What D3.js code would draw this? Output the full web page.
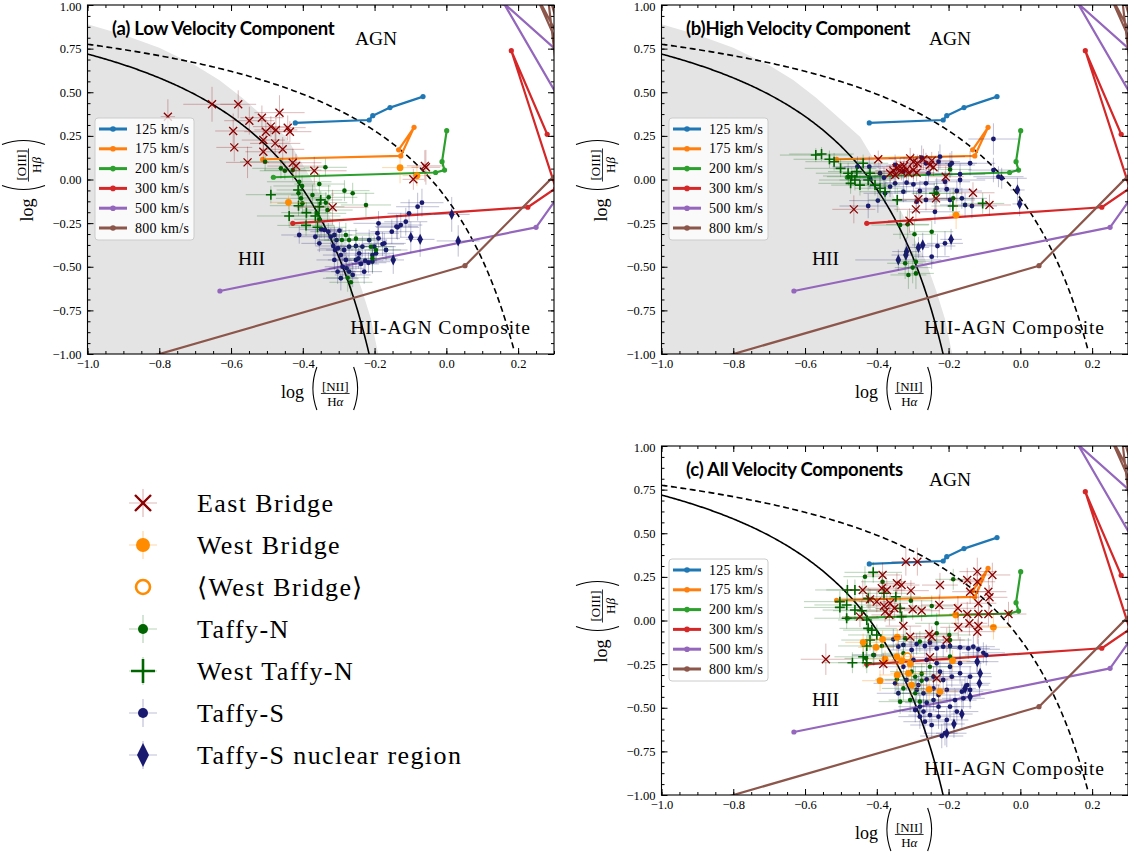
<!DOCTYPE html>
<html>
<head>
<meta charset="utf-8">
<script src="https://cdn.jsdelivr.net/npm/d3@7"></script>
<style>
  body { margin: 0; background: #fff; }
  svg text { font-family: "Liberation Serif", "Times New Roman", serif; fill: #000; }
</style>
</head>
<body>
<svg id="fig" width="1128" height="856"></svg>
<script>
// axis ticks
const xTicks = [-1.0, -0.8, -0.6, -0.4, -0.2, 0.0, 0.2];
const yTicks = [-1.0, -0.75, -0.5, -0.25, 0, 0.25, 0.5, 0.75, 1.0];

// shock model grids (same in every panel)
const velocities = ["125 km/s", "175 km/s", "200 km/s", "300 km/s", "500 km/s", "800 km/s"];
const modelColors = ["#1f77b4", "#ff7f0e", "#2ca02c", "#d62728", "#9467bd", "#8c564b"];
const model125 = [[-0.421,0.324],[-0.215,0.341],[-0.205,0.366],[-0.157,0.412],[-0.065,0.475]];
const model175 = [[-0.512,0.116],[-0.127,0.135],[-0.090,0.299],[-0.133,0.170]];
const model200 = [[-0.482,0.013],[-0.030,0.040],[-0.005,0.054],[-0.012,0.102],[0.001,0.280]];
const model300 = [[-0.428,-0.251],[0.227,-0.159],[0.305,-0.050],[0.181,0.738],[0.281,0.259]];
const model500 = [[-0.631,-0.639],[0.250,-0.274],[0.400,0.160],[0.160,1.010],[0.400,0.570]];
const model800 = [[-0.850,-1.030],[0.052,-0.494],[0.420,0.270],[0.240,1.100],[0.330,0.750],[0.280,1.100],[0.320,0.400]];
const models = [model125, model175, model200, model300, model500, model800];

// demarcation curves y = a/(x-b)+c
const kauffmann = { a: 0.61, b: 0.05, c: 1.30 };
const kewley    = { a: 0.61, b: 0.47, c: 1.19 };

// grey region edge (panels a, b)
const greyEdge = [[-1.0,0.89],[-0.90,0.83],[-0.80,0.755],[-0.70,0.655],[-0.633,0.57],[-0.57,0.47],
  [-0.521,0.381],[-0.446,0.244],[-0.41,0.12],[-0.37,-0.02],[-0.335,-0.17],[-0.298,-0.33],
  [-0.265,-0.46],[-0.234,-0.64],[-0.21,-0.80],[-0.19,-1.0]];

// ---- panel (a): [x, y, xerr, yerr]
const eastBridgeA = [[-0.776,0.360,0.02,0.10],[-0.653,0.431,0.08,0.10],[-0.580,0.431,0.05,0.08],
  [-0.549,0.337,0.07,0.08],[-0.514,0.354,0.06,0.07],[-0.465,0.383,0.07,0.10],[-0.594,0.278,0.05,0.10],
  [-0.503,0.274,0.06,0.07],[-0.489,0.303,0.05,0.06],[-0.475,0.284,0.06,0.07],[-0.442,0.297,0.05,0.07],
  [-0.436,0.274,0.06,0.06],[-0.591,0.184,0.05,0.08],[-0.510,0.226,0.06,0.07],[-0.477,0.207,0.07,0.08],
  [-0.456,0.173,0.06,0.07],[-0.510,0.159,0.05,0.07],[-0.554,0.098,0.06,0.09],[-0.428,0.096,0.08,0.08],
  [-0.419,0.077,0.08,0.07],[-0.368,0.050,0.09,0.08],[-0.317,-0.159,0.10,0.10],[-0.057,0.070,0.04,0.10],
  [-0.060,0.078,0.05,0.09],[-0.092,0.001,0.03,0.06]];
const westBridgeA = [[-0.440,-0.131,0.05,0.04],[-0.129,0.068,0.05,0.09],[-0.082,0.022,0.04,0.06]];
const taffyNA = [[-0.505,0.102,0.07,0.05],[-0.461,0.064,0.08,0.06],[-0.450,0.050,0.07,0.05],
  [-0.428,0.054,0.08,0.06],[-0.337,0.070,0.06,0.05],[-0.410,-0.013,0.09,0.07],[-0.402,-0.037,0.08,0.06],
  [-0.354,-0.026,0.07,0.06],[-0.412,-0.079,0.08,0.07],[-0.405,-0.108,0.07,0.06],[-0.328,-0.102,0.08,0.07],
  [-0.284,-0.064,0.07,0.06],[-0.261,-0.079,0.06,0.06],[-0.224,-0.146,0.07,0.07],[-0.401,-0.136,0.07,0.06],
  [-0.359,-0.194,0.08,0.07],[-0.354,-0.228,0.07,0.07],[-0.336,-0.133,0.06,0.06],[-0.331,-0.175,0.07,0.06],
  [-0.373,-0.089,0.06,0.06],[-0.280,-0.318,0.08,0.07],[-0.271,-0.347,0.07,0.06],[-0.252,-0.339,0.06,0.06],
  [-0.291,-0.347,0.07,0.07],[-0.210,-0.385,0.06,0.06],[-0.196,-0.404,0.07,0.06],[-0.206,-0.452,0.07,0.08],
  [-0.275,-0.563,0.06,0.08],[-0.266,-0.589,0.06,0.08]];
const westTaffyNA = [[-0.489,-0.087,0.07,0.05],[-0.438,-0.209,0.09,0.06],[-0.412,-0.150,0.08,0.06],
  [-0.390,-0.190,0.07,0.06],[-0.391,-0.263,0.08,0.06],[-0.359,-0.274,0.08,0.06],[-0.354,-0.156,0.07,0.06],
  [-0.350,-0.117,0.06,0.05],[-0.413,-0.060,0.06,0.05],[-0.365,-0.209,0.07,0.06]];
const taffySA = [[-0.410,-0.318,0.05,0.05],[-0.349,-0.285,0.06,0.05],[-0.340,-0.289,0.05,0.05],
  [-0.329,-0.299,0.05,0.05],[-0.322,-0.328,0.05,0.05],[-0.312,-0.318,0.05,0.05],[-0.298,-0.293,0.05,0.05],
  [-0.306,-0.347,0.05,0.05],[-0.315,-0.381,0.05,0.06],[-0.310,-0.404,0.05,0.06],[-0.302,-0.394,0.05,0.06],
  [-0.294,-0.433,0.05,0.06],[-0.285,-0.404,0.05,0.06],[-0.280,-0.461,0.05,0.06],[-0.289,-0.500,0.05,0.07],
  [-0.278,-0.509,0.05,0.07],[-0.271,-0.528,0.05,0.07],[-0.261,-0.547,0.05,0.07],[-0.252,-0.461,0.05,0.06],
  [-0.245,-0.452,0.05,0.06],[-0.238,-0.484,0.05,0.06],[-0.226,-0.465,0.05,0.06],[-0.217,-0.477,0.05,0.06],
  [-0.206,-0.433,0.05,0.06],[-0.196,-0.423,0.05,0.06],[-0.271,-0.385,0.05,0.06],[-0.252,-0.381,0.05,0.06],
  [-0.234,-0.385,0.05,0.06],[-0.192,-0.308,0.06,0.06],[-0.189,-0.337,0.06,0.06],[-0.173,-0.366,0.06,0.06],
  [-0.168,-0.404,0.06,0.06],[-0.189,-0.251,0.07,0.07],[-0.152,-0.299,0.06,0.07],[-0.136,-0.274,0.06,0.07],
  [-0.127,-0.261,0.06,0.07],[-0.113,-0.242,0.06,0.08],[-0.104,-0.194,0.06,0.08],[-0.080,-0.156,0.06,0.08],
  [-0.068,-0.133,0.06,0.08],[-0.365,-0.328,0.06,0.05],[-0.354,-0.366,0.05,0.05],[-0.215,-0.347,0.05,0.06],
  [-0.312,-0.461,0.05,0.06],[-0.303,-0.528,0.05,0.07],[-0.294,-0.566,0.05,0.07],[-0.243,-0.423,0.05,0.06],
  [-0.229,-0.528,0.05,0.07],[-0.139,-0.270,0.06,0.07],[-0.178,-0.370,0.06,0.07],[-0.201,-0.385,0.06,0.06],
  [-0.206,-0.471,0.05,0.07]];
const nuclearA = [[0.015,-0.200,0.05,0.10],[-0.099,-0.331,0.03,0.09],[-0.073,-0.343,0.04,0.10],
  [0.033,-0.352,0.06,0.09],[-0.148,-0.461,0.03,0.08]];

// ---- panel (b)
const eastBridgeB = [[-0.396,0.116,0.05,0.05],[-0.464,-0.171,0.06,0.08],[-0.307,0.121,0.06,0.06],
  [-0.298,0.102,0.05,0.05],[-0.287,0.093,0.05,0.05],[-0.270,0.116,0.05,0.06],[-0.247,0.108,0.06,0.05],
  [-0.252,0.083,0.05,0.05],[-0.242,0.070,0.05,0.05],[-0.363,0.036,0.05,0.05],[-0.354,0.051,0.05,0.05],
  [-0.345,0.064,0.05,0.05],[-0.335,0.073,0.05,0.05],[-0.324,0.077,0.05,0.05],[-0.317,0.058,0.05,0.05],
  [-0.331,0.045,0.05,0.05],[-0.312,0.036,0.05,0.05],[-0.298,0.054,0.05,0.05],[-0.289,0.039,0.05,0.05],
  [-0.349,0.026,0.05,0.05],[-0.208,0.016,0.05,0.06],[-0.132,-0.076,0.06,0.06],[-0.086,-0.146,0.06,0.06],
  [-0.235,-0.108,0.06,0.07],[-0.284,-0.113,0.06,0.06],[-0.291,-0.171,0.06,0.07],[-0.309,-0.236,0.06,0.07]];
const westBridgeB = [[-0.179,-0.204,0.02,0.08]];
const taffyNB = [[-0.479,0.016,0.06,0.05],[-0.233,-0.079,0.07,0.06],[-0.196,0.058,0.06,0.05],
  [-0.335,-0.261,0.08,0.08],[-0.314,-0.257,0.06,0.08],[-0.295,-0.314,0.06,0.08],[-0.247,-0.299,0.06,0.07],
  [-0.321,-0.480,0.05,0.09],[-0.300,-0.505,0.05,0.09],[-0.291,-0.538,0.05,0.09],[-0.312,-0.547,0.05,0.08],
  [-0.291,-0.471,0.05,0.08],[-0.187,-0.108,0.06,0.06]];
const westTaffyNB = [[-0.570,0.140,0.10,0.04],[-0.554,0.146,0.09,0.04],[-0.532,0.116,0.10,0.05],
  [-0.519,0.102,0.08,0.05],[-0.501,0.064,0.10,0.05],[-0.480,0.036,0.09,0.06],[-0.470,0.020,0.08,0.05],
  [-0.461,-0.003,0.10,0.06],[-0.447,-0.032,0.08,0.06],[-0.473,-0.022,0.09,0.06],[-0.456,0.045,0.08,0.05],
  [-0.438,0.093,0.07,0.05],[-0.419,0.036,0.08,0.05],[-0.424,-0.003,0.08,0.06],[-0.405,-0.032,0.07,0.06],
  [-0.391,-0.050,0.07,0.06],[-0.377,-0.070,0.07,0.06],[-0.343,-0.117,0.08,0.07],[-0.188,-0.152,0.06,0.06],
  [-0.105,-0.137,0.06,0.06],[-0.240,-0.079,0.06,0.06]];
const taffySB = [[-0.454,0.073,0.07,0.06],[-0.421,0.073,0.07,0.06],[-0.419,0.007,0.07,0.06],
  [-0.391,0.036,0.07,0.06],[-0.380,0.010,0.06,0.06],[-0.377,-0.079,0.06,0.06],[-0.363,-0.041,0.06,0.06],
  [-0.349,0.083,0.06,0.06],[-0.326,0.045,0.06,0.06],[-0.349,-0.022,0.06,0.06],[-0.317,-0.018,0.06,0.06],
  [-0.298,-0.028,0.06,0.06],[-0.326,-0.070,0.06,0.06],[-0.275,0.125,0.06,0.07],[-0.263,0.093,0.06,0.06],
  [-0.224,0.131,0.07,0.07],[-0.228,0.102,0.06,0.06],[-0.256,0.036,0.06,0.06],[-0.263,-0.022,0.06,0.06],
  [-0.280,-0.066,0.06,0.06],[-0.210,-0.013,0.07,0.06],[-0.205,-0.056,0.07,0.06],[-0.196,0.083,0.07,0.07],
  [-0.191,0.093,0.07,0.07],[-0.168,0.030,0.07,0.06],[-0.168,-0.003,0.07,0.06],[-0.177,-0.066,0.07,0.06],
  [-0.163,-0.108,0.07,0.06],[-0.196,-0.117,0.07,0.06],[-0.238,-0.185,0.07,0.07],[-0.233,-0.050,0.06,0.06],
  [-0.263,-0.117,0.06,0.06],[-0.289,-0.127,0.06,0.06],[-0.397,-0.121,0.08,0.07],[-0.424,-0.152,0.08,0.07],
  [-0.140,0.093,0.07,0.07],[-0.075,0.232,0.07,0.09],[-0.075,0.054,0.07,0.07],[-0.061,0.016,0.07,0.06],
  [-0.052,0.007,0.07,0.06],[-0.154,-0.146,0.07,0.07],[-0.135,-0.152,0.07,0.07],[-0.210,-0.366,0.05,0.07],
  [-0.231,-0.381,0.05,0.07],[-0.247,-0.442,0.05,0.07]];
const nuclearB = [[-0.008,-0.060,0.02,0.07],[-0.002,-0.140,0.02,0.07],[-0.193,-0.343,0.03,0.06],
  [-0.272,-0.375,0.03,0.07],[-0.284,-0.389,0.03,0.06],[-0.317,-0.413,0.04,0.08],[-0.319,-0.433,0.04,0.07],
  [-0.340,-0.461,0.12,0.06]];

// ---- panel (c)
const eastBridgeC = [[-0.542,-0.222,0.07,0.09],[-0.319,0.337,0.04,0.08],[-0.287,0.337,0.04,0.08],
  [-0.384,0.261,0.05,0.07],[-0.439,0.175,0.05,0.06],[-0.386,0.185,0.05,0.06],[-0.372,0.175,0.05,0.06],
  [-0.344,0.213,0.05,0.06],[-0.331,0.203,0.05,0.06],[-0.305,0.171,0.05,0.06],[-0.224,0.203,0.05,0.07],
  [-0.419,0.121,0.05,0.06],[-0.400,0.108,0.05,0.06],[-0.380,0.083,0.05,0.06],[-0.363,0.099,0.05,0.06],
  [-0.351,0.070,0.05,0.06],[-0.377,0.051,0.05,0.06],[-0.365,0.032,0.05,0.06],[-0.447,0.022,0.05,0.06],
  [-0.300,0.064,0.05,0.06],[-0.275,0.056,0.05,0.06],[-0.226,0.089,0.05,0.06],[-0.326,-0.032,0.05,0.06],
  [-0.307,-0.093,0.05,0.06],[-0.247,-0.093,0.05,0.06],[-0.174,0.070,0.05,0.07],[-0.148,0.232,0.05,0.07],
  [-0.120,0.280,0.05,0.08],[-0.078,0.261,0.05,0.07],[-0.120,0.222,0.05,0.07],[-0.140,0.165,0.05,0.07],
  [-0.089,0.165,0.05,0.07],[-0.086,0.133,0.05,0.07],[-0.117,0.099,0.05,0.07],[-0.148,0.037,0.05,0.07],
  [-0.117,0.037,0.05,0.07],[-0.089,0.037,0.05,0.07],[-0.033,0.037,0.05,0.07],[-0.142,-0.016,0.05,0.07],
  [-0.117,-0.032,0.05,0.07],[-0.173,-0.039,0.05,0.07],[-0.120,-0.064,0.05,0.07],[-0.254,-0.077,0.05,0.06],
  [-0.382,-0.249,0.05,0.06],[-0.233,-0.331,0.05,0.06],[-0.252,-0.211,0.05,0.06],[-0.205,-0.112,0.05,0.07]];
const westBridgeC = [[-0.438,-0.125,0.05,0.05],[-0.402,-0.154,0.05,0.05],[-0.384,-0.108,0.05,0.05],
  [-0.343,-0.096,0.05,0.05],[-0.377,-0.222,0.05,0.05],[-0.344,-0.207,0.05,0.05],[-0.331,-0.230,0.05,0.05],
  [-0.307,-0.249,0.05,0.05],[-0.343,-0.312,0.05,0.06],[-0.312,-0.303,0.05,0.06],[-0.391,-0.345,0.05,0.06],
  [-0.303,-0.370,0.05,0.06],[-0.254,-0.395,0.05,0.06],[-0.224,-0.408,0.05,0.06],[-0.189,-0.230,0.05,0.06],
  [-0.180,0.032,0.05,0.07],[-0.075,-0.039,0.05,0.07]];
const westBridgeMeanC = [[-0.315,-0.207]];
const taffyNC = [[-0.433,0.251,0.06,0.06],[-0.384,0.222,0.06,0.06],[-0.187,0.236,0.05,0.06],
  [-0.247,0.083,0.06,0.06],[-0.305,0.113,0.06,0.06],[-0.233,-0.016,0.06,0.06],[-0.321,-0.102,0.06,0.06],
  [-0.280,-0.121,0.06,0.06],[-0.386,-0.146,0.06,0.06],[-0.410,-0.198,0.06,0.06],[-0.326,-0.188,0.06,0.06],
  [-0.303,-0.293,0.06,0.06],[-0.293,-0.322,0.06,0.06],[-0.275,-0.306,0.06,0.06],[-0.252,-0.265,0.06,0.06],
  [-0.198,-0.083,0.06,0.06],[-0.196,-0.207,0.06,0.06],[-0.344,-0.337,0.06,0.06],[-0.326,-0.389,0.06,0.07],
  [-0.307,-0.456,0.06,0.07],[-0.293,-0.417,0.06,0.07],[-0.280,-0.465,0.06,0.07],[-0.335,-0.465,0.06,0.07],
  [-0.430,-0.217,0.06,0.06],[-0.233,-0.073,0.06,0.06],[-0.196,-0.112,0.06,0.06],[-0.275,-0.345,0.06,0.06]];
const westTaffyNC = [[-0.410,0.276,0.08,0.06],[-0.482,0.175,0.09,0.06],[-0.461,0.175,0.08,0.06],
  [-0.503,0.108,0.10,0.06],[-0.484,0.089,0.09,0.06],[-0.461,0.060,0.09,0.06],[-0.442,0.056,0.08,0.06],
  [-0.484,0.013,0.09,0.06],[-0.503,0.075,0.10,0.06],[-0.424,0.127,0.08,0.06],[-0.380,0.156,0.07,0.06],
  [-0.347,0.136,0.07,0.06],[-0.331,0.022,0.07,0.06],[-0.335,0.070,0.07,0.06],[-0.428,0.003,0.08,0.06],
  [-0.424,-0.045,0.08,0.06],[-0.414,-0.055,0.08,0.06],[-0.400,-0.083,0.08,0.06],[-0.419,-0.112,0.08,0.06],
  [-0.428,-0.146,0.08,0.06],[-0.428,-0.242,0.08,0.06],[-0.438,-0.208,0.08,0.06],[-0.468,-0.242,0.08,0.06]];
const taffySC = [[-0.408,-0.198,0.06,0.06],[-0.354,-0.108,0.06,0.06],[-0.340,-0.150,0.06,0.06],
  [-0.326,-0.140,0.06,0.06],[-0.303,-0.169,0.06,0.06],[-0.289,-0.135,0.06,0.06],[-0.266,-0.146,0.06,0.06],
  [-0.252,-0.127,0.06,0.06],[-0.233,-0.160,0.06,0.06],[-0.215,-0.150,0.06,0.06],[-0.196,-0.146,0.06,0.06],
  [-0.168,-0.154,0.06,0.06],[-0.145,-0.160,0.06,0.06],[-0.131,-0.150,0.06,0.06],[-0.117,-0.165,0.06,0.06],
  [-0.103,-0.185,0.06,0.06],[-0.095,-0.198,0.06,0.06],[-0.121,-0.236,0.06,0.06],[-0.140,-0.322,0.06,0.06],
  [-0.148,-0.370,0.06,0.06],[-0.140,-0.398,0.06,0.06],[-0.163,-0.408,0.06,0.06],[-0.159,-0.446,0.06,0.06],
  [-0.182,-0.456,0.06,0.06],[-0.205,-0.398,0.06,0.06],[-0.228,-0.427,0.06,0.06],[-0.242,-0.456,0.06,0.06],
  [-0.261,-0.471,0.06,0.06],[-0.280,-0.494,0.06,0.07],[-0.293,-0.513,0.06,0.07],[-0.270,-0.522,0.06,0.07],
  [-0.252,-0.542,0.06,0.07],[-0.228,-0.551,0.06,0.07],[-0.205,-0.570,0.06,0.07],[-0.280,-0.551,0.06,0.07],
  [-0.266,-0.580,0.06,0.07],[-0.247,-0.599,0.06,0.07],[-0.210,-0.646,0.06,0.07],[-0.219,-0.662,0.06,0.07],
  [-0.317,-0.341,0.06,0.06],[-0.340,-0.417,0.06,0.06],[-0.349,-0.360,0.06,0.06],[-0.298,-0.226,0.06,0.06],
  [-0.261,-0.226,0.06,0.06],[-0.233,-0.245,0.06,0.06],[-0.224,-0.293,0.06,0.06],[-0.196,-0.265,0.06,0.06],
  [-0.168,-0.245,0.06,0.06],[-0.168,-0.303,0.06,0.06],[-0.191,-0.322,0.06,0.06],[-0.215,-0.341,0.06,0.06],
  [-0.242,-0.322,0.06,0.06],[-0.261,-0.337,0.06,0.06],[-0.284,-0.370,0.06,0.06],[-0.270,-0.417,0.06,0.06],
  [-0.242,-0.389,0.06,0.06],[-0.228,-0.494,0.06,0.07],[-0.196,-0.494,0.06,0.07],[-0.177,-0.522,0.06,0.07],
  [-0.326,-0.265,0.06,0.06],[-0.289,-0.398,0.06,0.06]];
const nuclearC = [[-0.120,-0.236,0.03,0.07],[-0.112,-0.303,0.03,0.07],[-0.114,-0.360,0.03,0.07],
  [-0.154,-0.389,0.03,0.07],[-0.140,-0.437,0.03,0.07],[-0.185,-0.593,0.03,0.08],[-0.205,-0.646,0.03,0.08],
  [-0.163,-0.536,0.03,0.08]];

// legend of the regions (bottom left)
const regionLabels = ["East Bridge", "West Bridge", "\u27E8West Bridge\u27E9", "Taffy-N", "West Taffy-N", "Taffy-S", "Taffy-S nuclear region"];
const regionShapes = ["x", "circle", "open", "dot", "plus", "dot2", "diamond"];

const styles = {
  x:       { color: "#8b0000", err: "rgba(139,0,0,0.28)" },
  circle:  { color: "#ff8c00", err: "rgba(255,140,0,0.35)" },
  open:    { color: "#ff8c00", err: "none" },
  dot:     { color: "#006400", err: "rgba(0,100,0,0.28)" },
  plus:    { color: "#006400", err: "rgba(0,100,0,0.28)" },
  dot2:    { color: "#191970", err: "rgba(25,25,112,0.28)" },
  diamond: { color: "#191970", err: "rgba(25,25,112,0.28)" }
};

const W = 466.5, H = 349;
const panels = [
  { key: "a", left: 87.5, top: 5, shade: true, title: "(a) Low Velocity Component",
    groups: { nuc: nuclearA, ts: taffySA, wtn: westTaffyNA, tn: taffyNA, wb: westBridgeA, wbm: [], eb: eastBridgeA } },
  { key: "b", left: 661.5, top: 5, shade: true, title: "(b)High Velocity Component",
    groups: { nuc: nuclearB, ts: taffySB, wtn: westTaffyNB, tn: taffyNB, wb: westBridgeB, wbm: [], eb: eastBridgeB } },
  { key: "c", left: 661.5, top: 446, shade: false, title: "(c) All Velocity Components",
    groups: { nuc: nuclearC, ts: taffySC, wtn: westTaffyNC, tn: taffyNC, wb: westBridgeC, wbm: westBridgeMeanC, eb: eastBridgeC } }
];
const groupShape = { nuc: "diamond", ts: "dot2", wtn: "plus", tn: "dot", wb: "circle", wbm: "open", eb: "x" };

const svg = d3.select("#fig");

// draw one marker centred at (0,0) of g
function marker(g, shape, s) {
  const c = styles[shape].color;
  if (shape === "x") {
    g.append("path").attr("d", `M${-s},${-s}L${s},${s}M${-s},${s}L${s},${-s}`)
      .attr("stroke", c).attr("stroke-width", s > 5 ? 2.4 : 1.3).attr("fill", "none");
  } else if (shape === "circle") {
    g.append("circle").attr("r", s).attr("fill", c);
  } else if (shape === "open") {
    g.append("circle").attr("r", s).attr("fill", "none").attr("stroke", c).attr("stroke-width", s > 5 ? 2.6 : 1.4);
  } else if (shape === "dot" || shape === "dot2") {
    g.append("circle").attr("r", s).attr("fill", c);
  } else if (shape === "plus") {
    g.append("path").attr("d", `M${-s},0H${s}M0,${-s}V${s}`)
      .attr("stroke", c).attr("stroke-width", s > 6 ? 2.6 : 1.6).attr("fill", "none");
  } else if (shape === "diamond") {
    g.append("path").attr("d", `M0,${-s}L${s * 0.5},0L0,${s}L${-s * 0.5},0Z`).attr("fill", c);
  }
}
const markerSize = { x: 4, circle: 3.4, open: 3.6, dot: 2.3, plus: 5, dot2: 2.4, diamond: 5.6 };

// log( num / den ) label drawn horizontally, baseline at y=0, centred at x=0
function logFrac(g, num, denLetter, denGreek) {
  const inner = g.append("g");
  const lg = inner.append("text").attr("x", 0).attr("y", 0).style("font-size", "18px").text("log");
  const lw = lg.node().getComputedTextLength();
  const nt = inner.append("text").attr("y", -7.5).attr("text-anchor", "middle").style("font-size", "13px").text(num);
  const dt = inner.append("text").attr("y", 8).attr("text-anchor", "middle").style("font-size", "13px");
  dt.append("tspan").text(denLetter);
  dt.append("tspan").style("font-style", "italic").text(denGreek);
  const fw = Math.max(nt.node().getComputedTextLength(), dt.node().getComputedTextLength()) + 2;
  const p1 = lw + 7;
  const cx = p1 + 10 + fw / 2;
  const p2 = p1 + 10 + fw + 4;
  nt.attr("x", cx); dt.attr("x", cx);
  inner.append("line").attr("x1", cx - fw / 2).attr("x2", cx + fw / 2).attr("y1", -4.5).attr("y2", -4.5)
    .attr("stroke", "#000").attr("stroke-width", 0.8);
  inner.append("path").attr("d", `M${p1 + 6},-31Q${p1 - 2},-9.5 ${p1 + 6},12`).attr("fill", "none").attr("stroke", "#000").attr("stroke-width", 1.1);
  inner.append("path").attr("d", `M${p2},-31Q${p2 + 8},-9.5 ${p2},12`).attr("fill", "none").attr("stroke", "#000").attr("stroke-width", 1.1);
  const total = p2 + 7;
  inner.attr("transform", `translate(${-total / 2},0)`);
}

function curvePoints(cf, xEnd) {
  const pts = [];
  for (let v = -1; v <= xEnd; v += 0.004) pts.push([v, cf.a / (v - cf.b) + cf.c]);
  return pts;
}

function drawPanel(p) {
  const g = svg.append("g").attr("transform", `translate(${p.left},${p.top})`);
  const x = d3.scaleLinear().domain([-1, 0.3]).range([0, W]);
  const y = d3.scaleLinear().domain([-1, 1]).range([H, 0]);
  const clipId = "clip-" + p.key;
  g.append("clipPath").attr("id", clipId).append("rect").attr("width", W).attr("height", H);
  const plot = g.append("g").attr("clip-path", `url(#${clipId})`);
  const line = d3.line().x(d => x(d[0])).y(d => y(d[1]));

  if (p.shade) {
    plot.append("path").datum([[-1, -1]].concat(greyEdge)).attr("d", d => line(d) + "Z").attr("fill", "#e4e4e4");
  }

  // demarcation lines
  plot.append("path").datum(curvePoints(kauffmann, -0.21)).attr("d", line)
    .attr("fill", "none").attr("stroke", "#000").attr("stroke-width", 1.6);
  plot.append("path").datum(curvePoints(kewley, 0.19)).attr("d", line)
    .attr("fill", "none").attr("stroke", "#000").attr("stroke-width", 1.6).attr("stroke-dasharray", "6,3.5");

  // shock models
  models.forEach((m, i) => {
    plot.append("path").datum(m).attr("d", line).attr("fill", "none")
      .attr("stroke", modelColors[i]).attr("stroke-width", 2.2).attr("stroke-linejoin", "round");
    plot.selectAll(null).data(m).enter().append("circle")
      .attr("cx", d => x(d[0])).attr("cy", d => y(d[1])).attr("r", 2.6).attr("fill", modelColors[i]);
  });

  // data points with error bars
  Object.keys(p.groups).forEach(k => {
    const shape = groupShape[k];
    const st = styles[shape];
    const data = p.groups[k];
    if (st.err !== "none") {
      const eg = plot.append("g").attr("stroke", st.err).attr("stroke-width", 1);
      data.forEach(d => {
        eg.append("line").attr("x1", x(d[0] - d[2])).attr("x2", x(d[0] + d[2])).attr("y1", y(d[1])).attr("y2", y(d[1]));
        eg.append("line").attr("x1", x(d[0])).attr("x2", x(d[0])).attr("y1", y(d[1] - d[3])).attr("y2", y(d[1] + d[3]));
      });
    }
    data.forEach(d => {
      const mg = plot.append("g").attr("transform", `translate(${x(d[0])},${y(d[1])})`);
      marker(mg, shape, markerSize[shape]);
    });
  });

  // region labels
  g.append("text").attr("x", x(-0.196)).attr("y", y(0.77)).attr("text-anchor", "middle").style("font-size", "19.5px").text("AGN");
  g.append("text").attr("x", x(-0.543)).attr("y", y(-0.49)).attr("text-anchor", "middle").style("font-size", "19.5px").text("HII");
  g.append("text").attr("x", x(-0.016)).attr("y", y(-0.885)).attr("text-anchor", "middle").style("font-size", "19.5px")
    .style("letter-spacing", "0.9px").text("HII-AGN Composite");

  // title
  g.append("text").attr("x", 24.5).attr("y", 29.5)
    .style("font-family", "Lato, 'Open Sans', sans-serif").style("font-weight", "bold").style("font-size", "18.5px")
    .style("letter-spacing", "-0.25px").text(p.title);

  // velocity legend
  const lg = g.append("g").attr("transform", "translate(7.5,113)");
  lg.append("rect").attr("width", 99).attr("height", 122).attr("rx", 3)
    .attr("fill", "rgba(255,255,255,0.8)").attr("stroke", "#cccccc").attr("stroke-width", 1);
  velocities.forEach((v, i) => {
    const yy = 11 + i * 19.8;
    lg.append("line").attr("x1", 4).attr("x2", 32).attr("y1", yy).attr("y2", yy)
      .attr("stroke", modelColors[i]).attr("stroke-width", 3);
    lg.append("circle").attr("cx", 18).attr("cy", yy).attr("r", 2.8).attr("fill", modelColors[i]);
    lg.append("text").attr("x", 40).attr("y", yy + 4.5).style("font-size", "14px").style("letter-spacing", "0.3px").text(v);
  });

  // frame and ticks
  const ax = g.append("g");
  const xMinor = d3.range(-1, 0.3001, 0.05);
  const yMinor = d3.range(-1, 1.0001, 0.0625);
  const styleAxis = sel => {
    sel.select(".domain").remove();
    sel.selectAll("line").attr("stroke", "#000").attr("stroke-width", 1);
    sel.selectAll("text").style("font-family", "'Liberation Serif', serif").style("font-size", "12.5px");
  };
  ax.append("g").attr("transform", `translate(0,${H})`)
    .call(d3.axisBottom(x).tickValues(xTicks).tickFormat(d3.format(".1f")).tickSize(-6).tickPadding(5)).call(styleAxis);
  ax.append("g").attr("transform", `translate(0,${H})`)
    .call(d3.axisBottom(x).tickValues(xMinor).tickFormat("").tickSize(-3)).call(styleAxis);
  ax.append("g").call(d3.axisTop(x).tickValues(xTicks).tickFormat("").tickSize(-6)).call(styleAxis);
  ax.append("g").call(d3.axisTop(x).tickValues(xMinor).tickFormat("").tickSize(-3)).call(styleAxis);
  ax.append("g").call(d3.axisLeft(y).tickValues(yTicks).tickFormat(d3.format(".2f")).tickSize(-6).tickPadding(6)).call(styleAxis);
  ax.append("g").call(d3.axisLeft(y).tickValues(yMinor).tickFormat("").tickSize(-3)).call(styleAxis);
  ax.append("g").attr("transform", `translate(${W},0)`)
    .call(d3.axisRight(y).tickValues(yTicks).tickFormat("").tickSize(-6)).call(styleAxis);
  ax.append("g").attr("transform", `translate(${W},0)`)
    .call(d3.axisRight(y).tickValues(yMinor).tickFormat("").tickSize(-3)).call(styleAxis);
  // keep the top tick label inside the picture
  ax.selectAll(".tick text").filter(d => d === 1.0).attr("dy", "0.45em");
  g.append("rect").attr("width", W).attr("height", H).attr("fill", "none").attr("stroke", "#000").attr("stroke-width", 1.1);

  // axis labels
  logFrac(g.append("g").attr("transform", `translate(${W / 2},${H + 44})`), "[NII]", "H", "\u03B1");
  logFrac(g.append("g").attr("transform", `translate(-54.5,${H / 2}) rotate(-90)`), "[OIII]", "H", "\u03B2");
}

panels.forEach(drawPanel);

// region legend
const rl = svg.append("g").attr("transform", "translate(143,503)");
regionLabels.forEach((lab, i) => {
  const shape = regionShapes[i];
  const row = rl.append("g").attr("transform", `translate(0,${i * 42})`);
  if (styles[shape].err !== "none") {
    row.append("path").attr("d", "M-14,0H14M0,-14V14").attr("stroke", styles[shape].err).attr("stroke-width", 1.2);
  }
  const big = { x: 8, circle: 7, open: 7, dot: 5, plus: 12, dot2: 5, diamond: 12 };
  marker(row.append("g"), shape, big[shape]);
  row.append("text").attr("x", 54).attr("y", 9).style("font-size", "26px").style("letter-spacing", "1.4px").text(lab);
});
</script>
</body>
</html>
